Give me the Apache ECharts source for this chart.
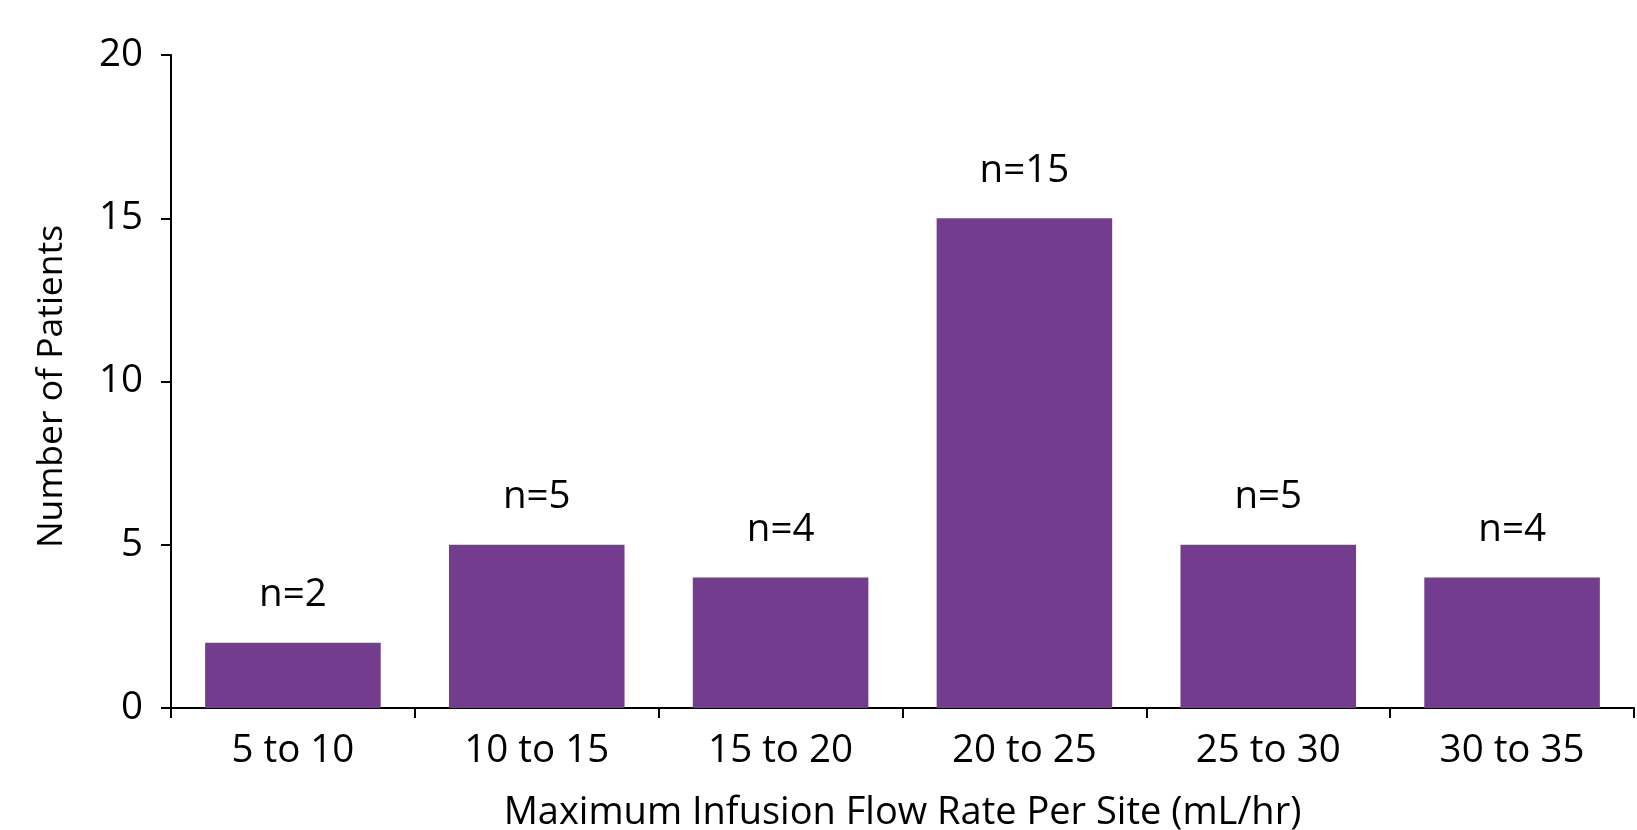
<!DOCTYPE html>
<html>
<head>
<meta charset="utf-8">
<script src="https://cdn.jsdelivr.net/npm/echarts@6/dist/echarts.min.js"></script>
<style>
  html, body { margin: 0; padding: 0; background: #fff; }
  #chart { width: 1637px; height: 830px; }
</style>
</head>
<body>
<div id="chart"></div>
<script>
// Patient counts by maximum infusion flow rate per site
const categories = ['5 to 10', '10 to 15', '15 to 20', '20 to 25', '25 to 30', '30 to 35'];
const patients = [2, 5, 4, 15, 5, 4];
const yTicks = [0, 5, 10, 15, 20];

const FONT = '"Open Sans", "Noto Sans", sans-serif';
const BAR_COLOR = '#743c8f';

const chart = echarts.init(document.getElementById('chart'), null, { renderer: 'canvas' });

chart.setOption({
  animation: false,
  backgroundColor: '#ffffff',
  textStyle: { fontFamily: FONT, color: '#000' },
  grid: {
    left: 171, right: 3, top: 55, bottom: 122,
    containLabel: false,
    outerBoundsMode: 'none'
  },
  xAxis: {
    type: 'category',
    data: categories,
    name: 'Maximum Infusion Flow Rate Per Site (mL/hr)',
    nameLocation: 'middle',
    nameGap: 86,
    nameTextStyle: { fontFamily: FONT, fontSize: 38, color: '#000' },
    axisLine: { lineStyle: { color: '#000', width: 2 } },
    axisTick: { show: true, length: 10, alignWithLabel: false, lineStyle: { color: '#000', width: 2 } },
    axisLabel: { fontFamily: FONT, fontSize: 38.5, color: '#000', margin: 24 },
    splitLine: { show: false }
  },
  yAxis: {
    type: 'value',
    min: yTicks[0],
    max: yTicks[yTicks.length - 1],
    interval: yTicks[1] - yTicks[0],
    name: 'Number of Patients',
    nameLocation: 'middle',
    nameGap: 101,
    nameRotate: 90,
    nameTextStyle: { fontFamily: FONT, fontSize: 35.5, color: '#000', padding: [0, 10, 0, 0] },
    axisLine: { show: true, lineStyle: { color: '#000', width: 2 } },
    axisTick: { show: true, length: 10, lineStyle: { color: '#000', width: 2 } },
    axisLabel: { fontFamily: FONT, fontSize: 38.5, color: '#000', margin: 28 },
    splitLine: { show: false }
  },
  series: [{
    type: 'bar',
    data: patients,
    barWidth: '72%',
    itemStyle: { color: BAR_COLOR },
    label: {
      show: true,
      position: 'top',
      distance: 28,
      fontFamily: FONT,
      fontSize: 38.5,
      color: '#000',
      formatter: p => 'n=' + p.value
    }
  }]
});
</script>
</body>
</html>
